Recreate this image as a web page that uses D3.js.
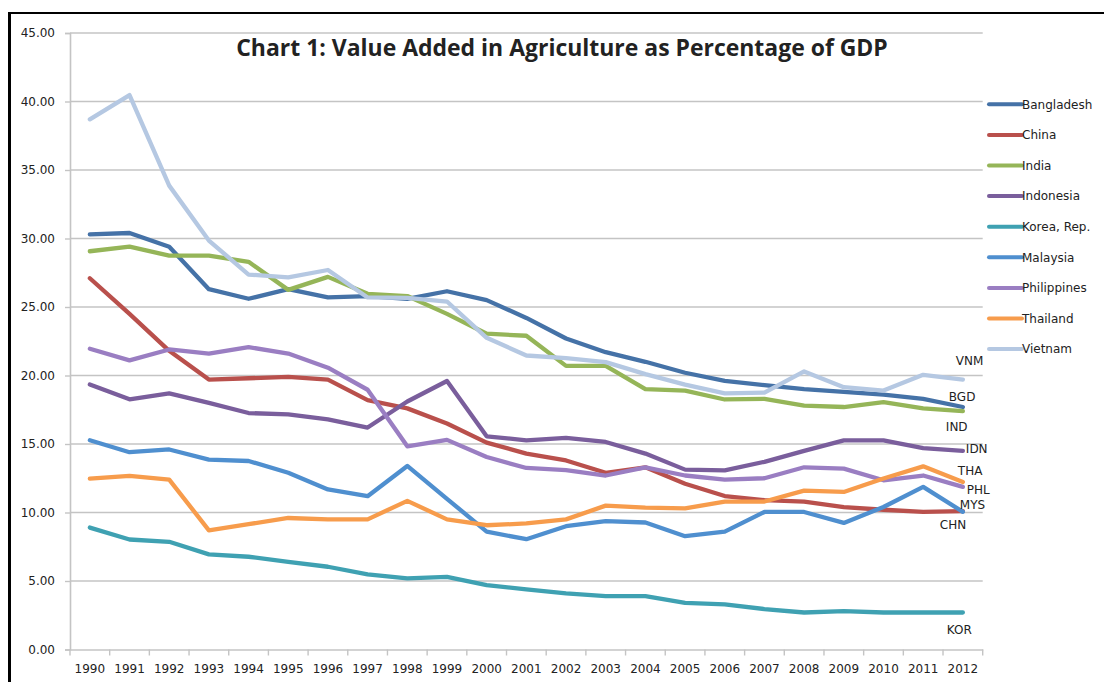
<!DOCTYPE html>
<html>
<head>
<meta charset="utf-8">
<script src="https://cdnjs.cloudflare.com/ajax/libs/d3/7.8.5/d3.min.js"></script>
<style>
  html, body { margin: 0; padding: 0; background: #fff; }
  svg { display: block; }
  text { font-family: "DejaVu Sans", sans-serif; fill: #222; }
</style>
</head>
<body>
<svg id="chart" width="1104" height="682"></svg>
<script>
const title = "Chart 1: Value Added in Agriculture as Percentage of GDP";
const years = ["1990","1991","1992","1993","1994","1995","1996","1997","1998","1999","2000","2001","2002","2003","2004","2005","2006","2007","2008","2009","2010","2011","2012"];
const yTicks = [0, 5, 10, 15, 20, 25, 30, 35, 40, 45];

const seriesNames = ["Bangladesh","China","India","Indonesia","Korea, Rep.","Malaysia","Philippines","Thailand","Vietnam"];
const seriesCodes = ["BGD","CHN","IND","IDN","KOR","MYS","PHL","THA","VNM"];

const bangladesh = [30.3,30.4,29.4,26.3,25.6,26.3,25.7,25.8,25.6,26.15,25.5,24.2,22.7,21.7,21.0,20.2,19.6,19.3,19.0,18.8,18.6,18.3,17.7];
const china      = [27.1,24.5,21.8,19.7,19.8,19.9,19.7,18.2,17.6,16.5,15.1,14.3,13.8,12.9,13.3,12.1,11.2,10.9,10.8,10.4,10.2,10.05,10.1];
const india      = [29.07,29.4,28.75,28.75,28.3,26.25,27.2,25.96,25.8,24.5,23.05,22.9,20.7,20.7,19.0,18.9,18.25,18.3,17.8,17.7,18.06,17.6,17.4];
const indonesia  = [19.35,18.26,18.7,18.0,17.26,17.16,16.8,16.2,18.1,19.6,15.56,15.27,15.44,15.15,14.3,13.13,13.08,13.7,14.5,15.27,15.27,14.7,14.5];
const korea      = [8.9,8.03,7.86,6.94,6.77,6.4,6.04,5.48,5.19,5.3,4.7,4.39,4.1,3.9,3.9,3.4,3.3,2.95,2.7,2.8,2.7,2.7,2.7];
const malaysia   = [15.27,14.4,14.6,13.86,13.76,12.9,11.68,11.19,13.4,11.0,8.6,8.05,9.0,9.37,9.27,8.27,8.6,10.04,10.04,9.24,10.4,11.87,10.05];
const philippines= [21.95,21.1,21.9,21.6,22.07,21.6,20.57,18.96,14.83,15.3,14.05,13.25,13.1,12.7,13.3,12.7,12.4,12.5,13.3,13.2,12.35,12.7,11.87];
const thailand   = [12.48,12.67,12.4,8.7,9.15,9.6,9.5,9.5,10.85,9.5,9.07,9.2,9.5,10.5,10.36,10.3,10.8,10.8,11.6,11.5,12.48,13.37,12.23];
const vietnam    = [38.7,40.47,33.86,29.85,27.37,27.17,27.7,25.7,25.67,25.4,22.75,21.46,21.27,20.98,20.1,19.33,18.7,18.75,20.3,19.15,18.9,20.05,19.7];

const seriesValues = [bangladesh, china, india, indonesia, korea, malaysia, philippines, thailand, vietnam];
const seriesColors = ["#4572A7","#B9504C","#95B558","#7A5E9C","#3FA1B2","#4F8FCF","#9A7EC2","#F79C4C","#B5C8E2"];

// end-label offsets (pixels from the 2012 point), drawing only
const labelOffsets = {
  BGD: [-14, -10], CHN: [-23, 14], IND: [-17, 16], IDN: [3, -2], THA: [-5, -11],
  PHL: [4, 3], MYS: [-3, -7], KOR: [-16, 17], VNM: [-7, -19]
};

const svg = d3.select("#chart");
const margin = { left: 70, right: 982.7, top: 33, bottom: 649.5 };

const x = d3.scaleBand().domain(years).range([margin.left, margin.right]).padding(0);
const y = d3.scaleLinear().domain([0, 45]).range([margin.bottom, margin.top]);

// frame
svg.append("line").attr("x1", 9.5).attr("x2", 9.5).attr("y1", 12).attr("y2", 682)
  .attr("stroke", "#000").attr("stroke-width", 3);
svg.append("line").attr("x1", 8).attr("x2", 1104).attr("y1", 13).attr("y2", 13)
  .attr("stroke", "#000").attr("stroke-width", 2.2);

// gridlines
svg.append("g").selectAll("line").data(yTicks.filter(d => d > 0)).join("line")
  .attr("x1", margin.left).attr("x2", margin.right)
  .attr("y1", d => y(d)).attr("y2", d => y(d))
  .attr("stroke", "#C4C4C4").attr("stroke-width", 1.6);

// y axis
const yAxis = d3.axisLeft(y).tickValues(yTicks).tickFormat(d3.format(".2f")).tickSizeOuter(0).tickSize(5).tickPadding(10);
const gy = svg.append("g").attr("transform", `translate(${margin.left},0)`).call(yAxis);
gy.select(".domain").attr("stroke", "#C4C4C4").attr("stroke-width", 1.6);
gy.selectAll(".tick line").attr("stroke", "#C4C4C4").attr("stroke-width", 1.4);
gy.selectAll(".tick text").attr("font-size", 12).attr("font-family", "DejaVu Sans").attr("fill", "#333");

// x axis
const xAxis = d3.axisBottom(x).tickSize(0).tickPadding(15);
const gx = svg.append("g").attr("transform", `translate(0,${margin.bottom})`).call(xAxis);
gx.select(".domain").attr("stroke", "#C4C4C4").attr("stroke-width", 1.6);
gx.selectAll(".tick text").attr("font-size", 12).attr("font-family", "DejaVu Sans").attr("fill", "#333");
// boundary tick marks between categories
const bounds = years.map(d => x(d)).concat([x(years[years.length - 1]) + x.bandwidth()]);
gx.append("g").selectAll("line").data(bounds).join("line")
  .attr("x1", d => d).attr("x2", d => d).attr("y1", 0).attr("y2", 6)
  .attr("stroke", "#C4C4C4").attr("stroke-width", 1.4);

// lines
const line = d3.line()
  .x((d, i) => x(years[i]) + x.bandwidth() / 2)
  .y(d => y(d));

svg.append("g").selectAll("path").data(seriesValues).join("path")
  .attr("d", d => line(d))
  .attr("fill", "none")
  .attr("stroke", (d, i) => seriesColors[i])
  .attr("stroke-width", 4.3)
  .attr("stroke-linejoin", "round")
  .attr("stroke-linecap", "round");

// end labels
const lastX = x(years[years.length - 1]) + x.bandwidth() / 2;
svg.append("g").selectAll("text").data(seriesCodes).join("text")
  .attr("x", (c, i) => lastX + labelOffsets[c][0])
  .attr("y", (c, i) => y(seriesValues[i][seriesValues[i].length - 1]) + labelOffsets[c][1])
  .attr("dy", "0.35em")
  .attr("font-size", 12)
  .attr("fill", "#222")
  .text(c => c);

// legend
const legend = svg.append("g").selectAll("g").data(seriesNames).join("g")
  .attr("transform", (d, i) => `translate(989,${104.3 + i * 30.6})`);
legend.append("line").attr("x1", 0).attr("x2", 33).attr("y1", 0).attr("y2", 0)
  .attr("stroke", (d, i) => seriesColors[i]).attr("stroke-width", 4).attr("stroke-linecap", "round");
legend.append("text").attr("x", 33).attr("dy", "0.35em").attr("font-size", 12).attr("fill", "#333").text(d => d);

// title
const t = svg.append("text").attr("x", 562).attr("y", 56).attr("text-anchor", "middle")
  .style("font-family", "'Open Sans', sans-serif")
  .attr("font-weight", "bold").attr("font-size", 20).attr("fill", "#111").text(title);
const w = t.node().getComputedTextLength();
t.attr("font-size", 20 * 652 / w);
</script>
</body>
</html>
